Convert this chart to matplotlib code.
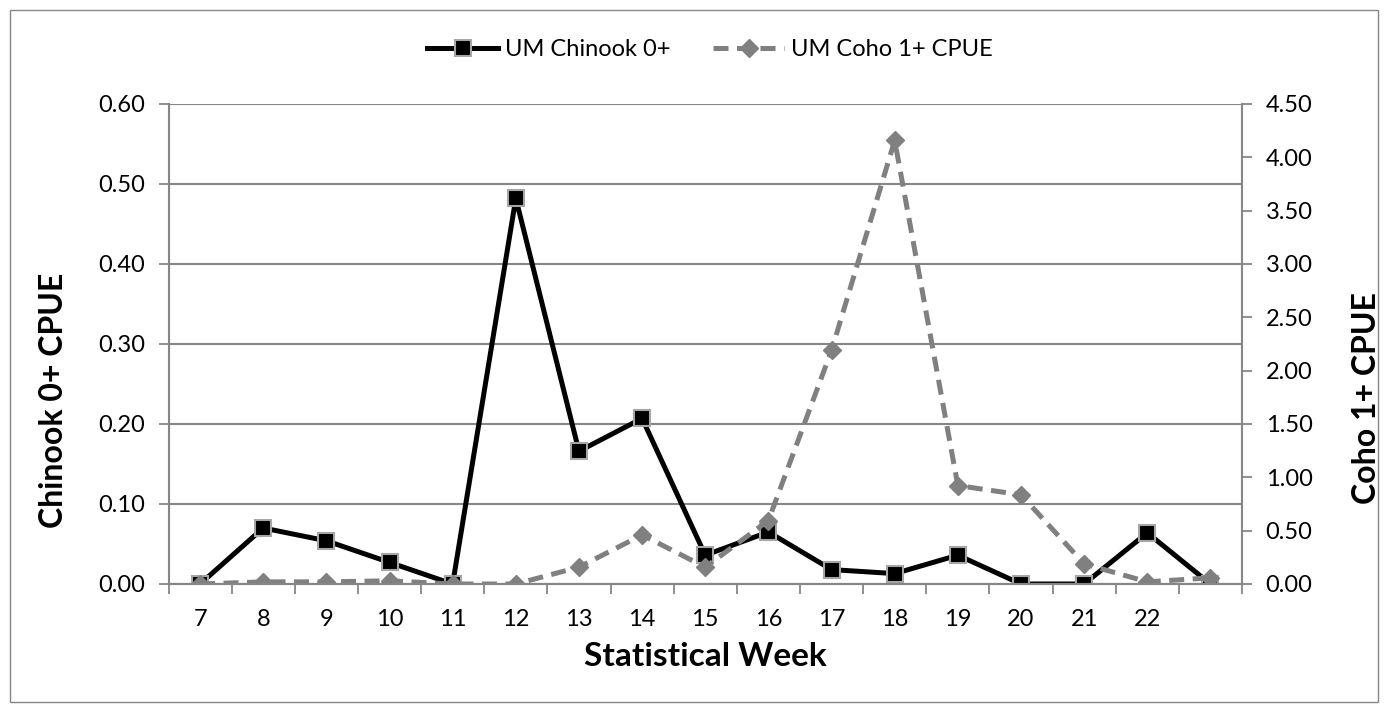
import matplotlib.pyplot as plt
from matplotlib.ticker import FormatStrFormatter, MultipleLocator
from matplotlib.patches import Rectangle

plt.rcParams['font.family'] = ['Lato', 'DejaVu Sans']

# statistical weeks (last category has no label in the original)
weeks = ['7', '8', '9', '10', '11', '12', '13', '14', '15', '16',
         '17', '18', '19', '20', '21', '22', '']
chinook = [0.0, 0.070, 0.054, 0.027, 0.0, 0.482, 0.166, 0.207, 0.036,
           0.065, 0.018, 0.013, 0.036, 0.0, 0.0, 0.064, 0.0]
coho = [0.0, 0.02, 0.02, 0.03, 0.0, 0.0, 0.158, 0.46, 0.158,
        0.595, 2.19, 4.158, 0.923, 0.836, 0.189, 0.02, 0.058]

grey = '#868686'
x = list(range(len(weeks)))

W, H = 1388, 712
fig = plt.figure(figsize=(W / 100, H / 100), dpi=100)
ax = fig.add_axes([168.5 / W, 1 - 584 / H, (1242 - 168.5) / W, (584 - 104) / H])
ax2 = ax.twinx()

l1, = ax.plot(x, chinook, color='black', lw=3.6, marker='s', ms=11,
              mfc='black', mec='#a6a6a6', mew=1.5, label='UM Chinook 0+')
l2, = ax2.plot(x, coho, color='#808080', lw=3.6, ls=(0, (3, 1.7)), marker='D',
               ms=9.5, mfc='#808080', mec='#808080', label='UM Coho 1+ CPUE')

ax.set_xlim(-0.5, len(weeks) - 0.5)
ax.set_ylim(0, 0.6)
ax2.set_ylim(0, 4.5)
ax.yaxis.set_major_locator(MultipleLocator(0.1))
ax2.yaxis.set_major_locator(MultipleLocator(0.5))
ax.yaxis.set_major_formatter(FormatStrFormatter('%.2f'))
ax2.yaxis.set_major_formatter(FormatStrFormatter('%.2f'))

ax.set_xticks(x)
ax.set_xticklabels(weeks)
ax.set_xticks([i - 0.5 for i in range(len(weeks) + 1)], minor=True)
ax.tick_params(axis='x', which='major', length=0, pad=18, labelsize=17)
ax.tick_params(axis='x', which='minor', length=7, width=1.3, color=grey)
ax.tick_params(axis='y', length=7, width=1.3, color=grey, labelsize=17, pad=10)
ax2.tick_params(axis='y', length=7, width=1.3, color=grey, labelsize=17, pad=10)

ax.grid(axis='y', color=grey, lw=1.5)
ax.set_axisbelow(True)
for a in (ax, ax2):
    for s in a.spines.values():
        s.set_visible(False)
    a.spines['bottom'].set_visible(True)
    a.spines['bottom'].set_color(grey)
    a.spines['bottom'].set_linewidth(1.5)
ax.spines['left'].set_visible(True)
ax.spines['left'].set_color(grey)
ax.spines['left'].set_linewidth(1.5)
ax2.spines['right'].set_visible(True)
ax2.spines['right'].set_color(grey)
ax2.spines['right'].set_linewidth(1.5)

ax.set_xlabel('Statistical Week', fontsize=24, fontweight='bold')
ax.xaxis.set_label_coords(0.5, -(657 - 584) / 480)
ax.set_ylabel('Chinook 0+ CPUE', fontsize=23, fontweight='bold')
ax.yaxis.set_label_coords((54 - 168.5) / 1073.5, (584 - 400) / 480)
ax2.set_ylabel('Coho 1+ CPUE', fontsize=23, fontweight='bold')
ax2.yaxis.set_label_coords((1366 - 168.5) / 1073.5, (584 - 398) / 480)
ax.xaxis.label.set_va('center')
ax.yaxis.label.set_va('center')
ax2.yaxis.label.set_va('center')

fig.legend(handles=[l1, l2], loc='center', bbox_to_anchor=(710 / W, 1 - 50 / H),
           ncol=2, frameon=False, fontsize=17, handlelength=3.0, columnspacing=1.8,
           handletextpad=0.3)

fig.patches.append(Rectangle((10 / W, 10 / H), (W - 20) / W, (H - 20) / H,
                             transform=fig.transFigure, fill=False,
                             edgecolor=grey, lw=1))

fig.savefig('out.png', dpi=100)
